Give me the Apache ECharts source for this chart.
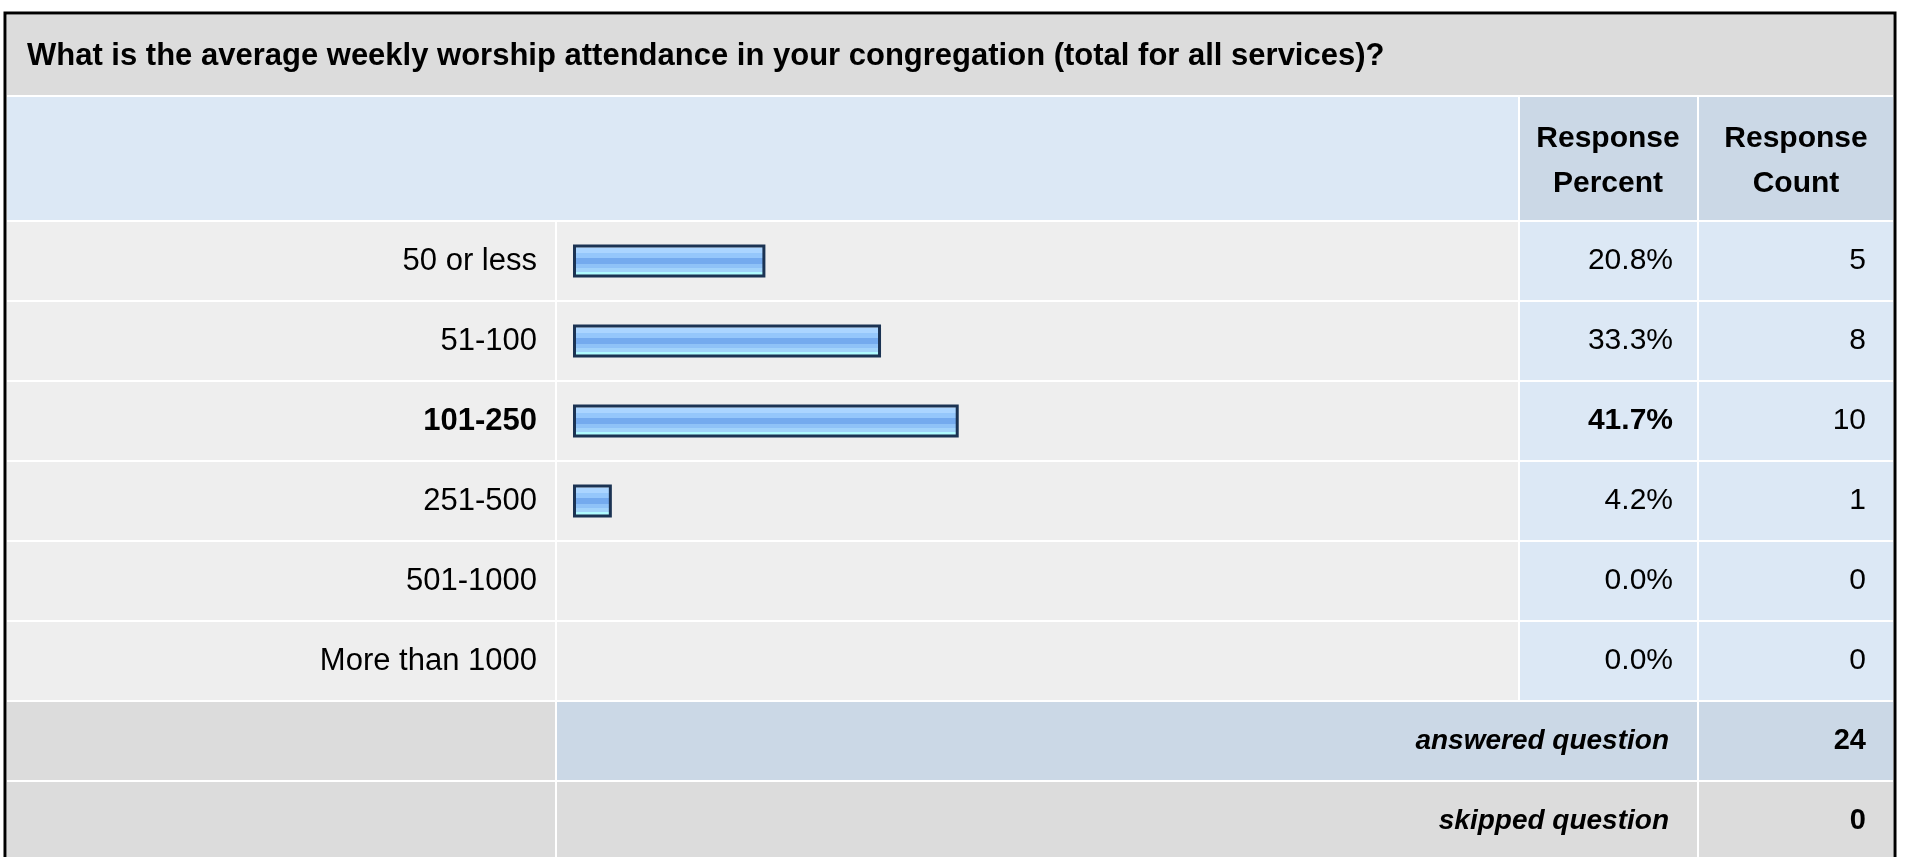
<!DOCTYPE html>
<html>
<head>
<meta charset="utf-8">
<title>Average weekly worship attendance</title>
<script src="https://cdn.jsdelivr.net/npm/echarts@6/dist/echarts.min.js"></script>
<style>
  html, body { margin: 0; padding: 0; background: #ffffff; }
  #chart { width: 1907px; height: 857px; }
</style>
</head>
<body>
<div id="chart"></div>
<script>
const question = "What is the average weekly worship attendance in your congregation (total for all services)?";
const categories = ["50 or less", "51-100", "101-250", "251-500", "501-1000", "More than 1000"];
const percents = [20.8, 33.3, 41.7, 4.2, 0.0, 0.0];
const counts = [5, 8, 10, 1, 0, 0];
const summaryLabels = ["answered question", "skipped question"];
const summaryValues = [24, 0];
const highlightIndex = 2; // the row shown in bold

const FONT = "'Liberation Sans', Arial, sans-serif";

// table layout
const colLabelEnd = 555;
const colBarStart = 557;
const colBarEnd = 1518;
const colPctStart = 1520;
const colPctEnd = 1697;
const colCntStart = 1699;
const colCntEnd = 1893;
const rowTop = 221;
const rowPitch = 80;

const chart = echarts.init(document.getElementById("chart"));

function rect(x, y, w, h, fill) {
  return { type: "rect", z: -1, shape: { x: x, y: y, width: w, height: h }, style: { fill: fill } };
}

function text(x, y, str, align, extra) {
  return {
    type: "text",
    z: 5,
    style: Object.assign({
      x: x, y: y, text: str, align: align, verticalAlign: "middle",
      fill: "#000", font: "30px " + FONT
    }, extra || {})
  };
}

const graphics = [];
// title band and header band
graphics.push(rect(7, 15, colCntEnd - 7, 80, "#dcdcdc"));
graphics.push(rect(7, 97, colBarEnd - 7, 123, "#dce8f5"));
graphics.push(rect(colPctStart, 97, colPctEnd - colPctStart, 123, "#cbd8e6"));
graphics.push(rect(colCntStart, 97, colCntEnd - colCntStart, 123, "#cbd8e6"));

// data rows
categories.forEach(function (c, i) {
  const y = rowTop + 1 + i * rowPitch;
  graphics.push(rect(7, y, colLabelEnd - 7, 78, "#eeeeee"));
  graphics.push(rect(colBarStart, y, colBarEnd - colBarStart, 78, "#eeeeee"));
  graphics.push(rect(colPctStart, y, colPctEnd - colPctStart, 78, "#dce8f5"));
  graphics.push(rect(colCntStart, y, colCntEnd - colCntStart, 78, "#dce8f5"));
});

// summary rows
summaryLabels.forEach(function (lab, i) {
  const y = rowTop + 1 + (categories.length + i) * rowPitch;
  const fill = i === 0 ? "#cbd8e6" : "#dcdcdc";
  graphics.push(rect(7, y, colLabelEnd - 7, 78, "#dcdcdc"));
  graphics.push(rect(colBarStart, y, colPctEnd - colBarStart, 78, fill));
  graphics.push(rect(colCntStart, y, colCntEnd - colCntStart, 78, fill));
  graphics.push(text(1669, y + 39, lab, "right", { font: "italic bold 28px " + FONT }));
  graphics.push(text(1866, y + 39, String(summaryValues[i]), "right", { font: "bold 29px " + FONT }));
});

// outer frame
graphics.push({
  type: "rect", z: 6,
  shape: { x: 5, y: 13, width: 1890, height: 860 },
  style: { fill: null, stroke: "#000", lineWidth: 3 }
});

graphics.push(text(27, 56, question, "left", { font: "bold 31px " + FONT }));
graphics.push(text(1608, 161, "Response\nPercent", "center", { font: "bold 30px " + FONT, lineHeight: 45 }));
graphics.push(text(1796, 161, "Response\nCount", "center", { font: "bold 30px " + FONT, lineHeight: 45 }));

const barFill = new echarts.graphic.LinearGradient(0, 0, 0, 1, [
  { offset: 0, color: "#d0e9ff" },
  { offset: 0.1, color: "#d0e9ff" },
  { offset: 0.1, color: "#abd5ff" },
  { offset: 0.25, color: "#abd5ff" },
  { offset: 0.25, color: "#95c7fb" },
  { offset: 0.42, color: "#95c7fb" },
  { offset: 0.42, color: "#74aaee" },
  { offset: 0.58, color: "#74aaee" },
  { offset: 0.58, color: "#8fc2f7" },
  { offset: 0.72, color: "#8fc2f7" },
  { offset: 0.72, color: "#a2d3fb" },
  { offset: 0.82, color: "#a2d3fb" },
  { offset: 0.82, color: "#b0fbff" },
  { offset: 1, color: "#b0fbff" }
]);

function boldRow(v, i) {
  return i === highlightIndex ? "{b|" + v + "}" : v;
}

const labelStyle = { fontSize: 30, fontFamily: FONT, color: "#000" };
const boldRich = { b: { fontSize: 30, fontFamily: FONT, fontWeight: "bold", color: "#000" } };

const option = {
  animation: false,
  graphic: graphics,
  grid: { left: 573, top: rowTop, width: 925, height: categories.length * rowPitch },
  xAxis: { type: "value", min: 0, max: 100, show: false },
  yAxis: [
    {
      type: "category", data: categories, inverse: true, position: "left",
      axisLine: { show: false }, axisTick: { show: false }, splitLine: { show: false },
      axisLabel: Object.assign({ margin: 36, formatter: boldRow, rich: { b: Object.assign({}, boldRich.b, { fontSize: 31 }) } },
        labelStyle, { fontSize: 31 })
    },
    {
      type: "category", data: percents.map(function (p) { return p.toFixed(1) + "%"; }),
      inverse: true, position: "right",
      axisLine: { show: false }, axisTick: { show: false }, splitLine: { show: false },
      axisLabel: Object.assign({ margin: 175, align: "right", formatter: boldRow, rich: boldRich }, labelStyle)
    },
    {
      type: "category", data: counts.map(String), inverse: true, position: "right",
      axisLine: { show: false }, axisTick: { show: false }, splitLine: { show: false },
      axisLabel: Object.assign({ margin: 368, align: "right" }, labelStyle)
    }
  ],
  series: [
    {
      type: "bar",
      yAxisIndex: 0,
      barWidth: 33,
      data: percents.map(function (p) {
        return p > 0 ? p : { value: p, itemStyle: { borderWidth: 0 } };
      }),
      itemStyle: { color: barFill, borderColor: "#1b3353", borderWidth: 3 }
    }
  ]
};

chart.setOption(option);
window.addEventListener("resize", function () { chart.resize(); });
</script>
</body>
</html>
